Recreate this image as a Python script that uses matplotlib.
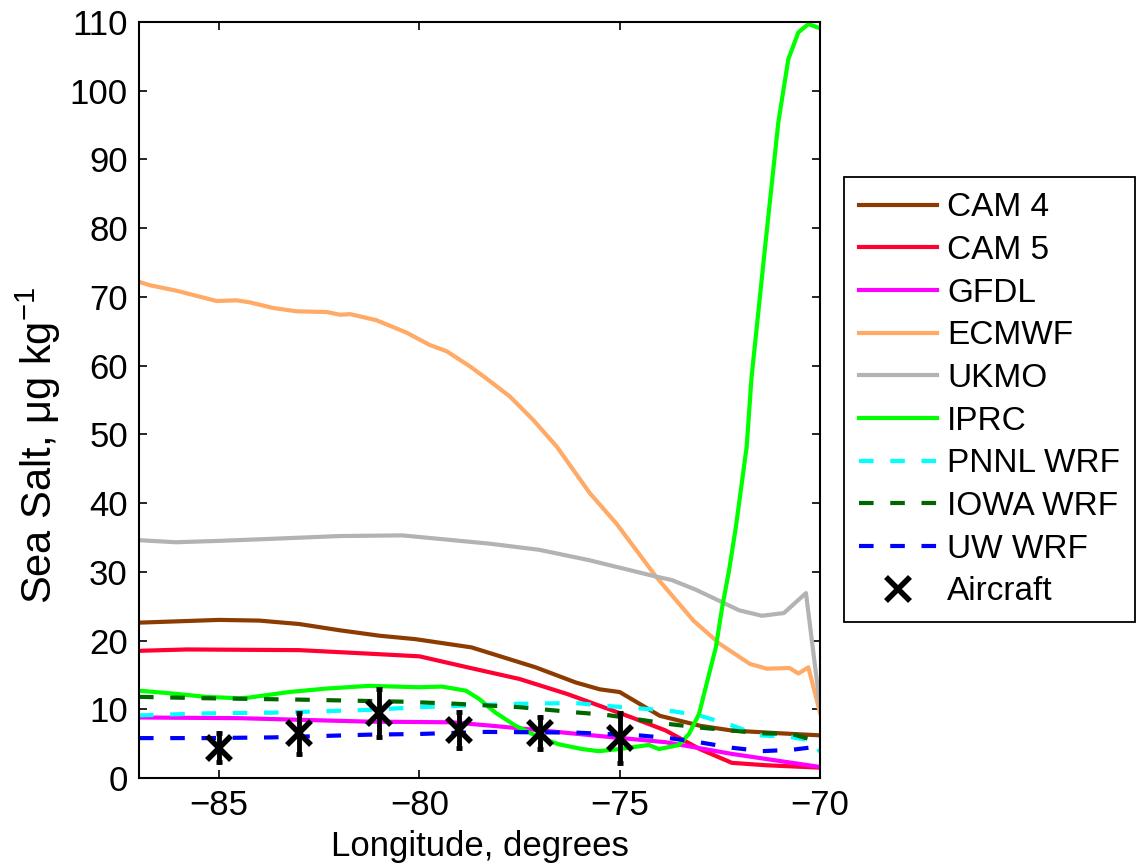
import matplotlib
matplotlib.use("Agg")
import matplotlib.pyplot as plt

plt.rcParams["font.family"] = ["Liberation Sans", "DejaVu Sans"]
plt.rcParams["mathtext.fontset"] = "custom"
plt.rcParams["mathtext.rm"] = "Liberation Sans"
plt.rcParams["mathtext.it"] = "Liberation Sans:italic"

# --- model transects (longitude, sea salt in ug/kg) ---
cam4_lon = [-87.0, -85.0, -84.0, -83.0, -82.0, -81.0, -80.1, -78.7, -77.1, -76.1,
            -75.5, -75.0, -74.0, -73.0, -72.2, -71.0, -70.0]
cam4_val = [22.6, 23.0, 22.9, 22.4, 21.5, 20.7, 20.2, 19.0, 16.1, 13.9,
            12.9, 12.5, 9.05, 7.6, 6.9, 6.5, 6.2]

cam5_lon = [-87.0, -85.8, -83.0, -81.3, -80.0, -78.8, -77.5, -76.3, -75.5, -74.7,
            -73.85, -73.0, -72.2, -71.35, -70.0]
cam5_val = [18.5, 18.7, 18.6, 18.1, 17.7, 16.1, 14.4, 12.2, 10.5, 8.8,
            6.9, 4.2, 2.2, 1.85, 1.5]

gfdl_lon = [-87.0, -84.5, -81.3, -79.2, -78.2, -77.1, -75.5, -73.85, -72.2, -70.0]
gfdl_val = [8.8, 8.7, 8.2, 8.1, 7.6, 7.0, 6.1, 5.2, 3.5, 1.6]

ecmwf_lon = [-87.0, -86.73, -86.06, -85.73, -85.06, -84.56, -84.23, -83.66, -83.06,
             -82.31, -81.98, -81.73, -81.07, -80.32, -79.74, -79.32, -78.74, -78.32,
             -77.74, -77.16, -76.57, -75.74, -75.08, -74.08, -73.16, -72.5, -71.75,
             -71.33, -70.76, -70.54, -70.29, -70.0]
ecmwf_val = [72.2, 71.7, 70.9, 70.4, 69.4, 69.5, 69.2, 68.4, 67.9,
             67.8, 67.4, 67.5, 66.6, 64.8, 63.0, 62.1, 59.9, 58.1,
             55.5, 52.1, 48.2, 41.4, 37.0, 29.2, 22.9, 19.5, 16.6,
             15.9, 16.0, 15.2, 16.1, 9.5]

ukmo_lon = [-87.0, -86.08, -85.0, -83.68, -82.0, -80.43, -78.26, -77.01, -75.77,
            -74.09, -73.7, -73.1, -72.02, -71.45, -70.9, -70.35, -70.0]
ukmo_val = [34.6, 34.3, 34.5, 34.8, 35.2, 35.3, 34.1, 33.2, 31.7,
            29.3, 28.8, 27.4, 24.4, 23.6, 24.0, 26.9, 10.5]

iprc_lon = [-87.0, -86.18, -85.33, -84.5, -84.25, -83.26, -82.34, -81.26, -80.01,
            -79.44, -78.84, -78.51, -78.1, -77.6, -77.01, -76.52, -75.93, -75.52,
            -75.02, -74.27, -74.02, -73.52, -73.27, -73.02, -72.77, -72.6, -72.44,
            -72.27, -72.1, -71.83, -71.71, -71.37, -71.04, -70.79, -70.54, -70.29,
            -70.0]
iprc_val = [12.7, 12.3, 11.8, 11.6, 11.7, 12.5, 13.0, 13.4, 13.2,
            13.3, 12.7, 11.5, 9.5, 7.6, 5.9, 4.9, 4.2, 3.9,
            4.2, 4.8, 4.2, 4.8, 6.4, 9.3, 15.1, 19.0, 24.9,
            30.2, 36.5, 48.2, 58.2, 77.3, 95.4, 104.6, 108.5, 109.7,
            109.1]

pnnl_lon = [-87.0, -85.33, -83.68, -81.26, -80.01, -77.51, -76.09, -75.36, -73.77,
            -73.02, -72.27, -71.52, -70.77, -70.2, -70.0]
pnnl_val = [9.1, 9.4, 9.5, 9.9, 10.3, 10.8, 10.9, 10.5, 9.8,
            9.1, 7.8, 6.2, 6.0, 5.4, 3.8]

iowa_lon = [-87.0, -85.33, -83.0, -81.26, -80.43, -79.1, -77.51, -76.01, -75.36,
            -74.52, -73.7, -72.95, -72.2, -71.45, -70.7, -70.0]
iowa_val = [11.8, 11.6, 11.4, 11.2, 11.1, 10.8, 10.3, 9.5, 9.2,
            8.5, 7.8, 7.3, 6.9, 6.5, 6.4, 5.2]

uw_lon = [-87.0, -85.33, -83.68, -81.26, -80.01, -78.35, -76.09, -75.36, -74.52,
          -73.77, -73.02, -72.2, -71.45, -70.7, -70.0]
uw_val = [5.8, 5.8, 5.9, 6.3, 6.4, 6.7, 6.6, 6.4, 6.2,
          5.8, 5.2, 4.4, 3.9, 4.1, 4.6]

# --- aircraft observations ---
air_lon = [-85, -83, -81, -79, -77, -75]
air_val = [4.4, 6.5, 9.5, 7.0, 6.5, 5.8]
air_err = [2.1, 3.0, 3.5, 2.6, 2.3, 3.6]

fig = plt.figure(figsize=(11.43, 8.67), dpi=100)
ax = fig.add_axes([0.1216, 0.1027, 0.5958, 0.8719])

lw = 3.0
dash = (3.5, 4.0)
ax.plot(cam4_lon, cam4_val, color="#8c3c00", lw=lw, label="CAM 4")
ax.plot(cam5_lon, cam5_val, color="#ff0033", lw=lw, label="CAM 5")
ax.plot(gfdl_lon, gfdl_val, color="#ff00ff", lw=lw, label="GFDL")
ax.plot(ecmwf_lon, ecmwf_val, color="#ffaa66", lw=lw, label="ECMWF")
ax.plot(ukmo_lon, ukmo_val, color="#b3b3b3", lw=lw, label="UKMO")
ax.plot(iprc_lon, iprc_val, color="#00ff00", lw=lw, label="IPRC")
ax.plot(pnnl_lon, pnnl_val, color="#00ffff", lw=lw, dashes=dash, label="PNNL WRF")
ax.plot(iowa_lon, iowa_val, color="#006600", lw=lw, dashes=dash, label="IOWA WRF")
ax.plot(uw_lon, uw_val, color="#0000ff", lw=lw, dashes=dash, label="UW WRF")

ax.errorbar(air_lon, air_val, yerr=air_err, fmt="none", ecolor="black",
            elinewidth=3.5, capsize=2.5, capthick=3.5, zorder=5)
ax.plot(air_lon, air_val, linestyle="none", marker="x", color="black",
        markersize=17, markeredgewidth=4, label="Aircraft", zorder=6)

ax.set_xlim(-87, -70)
ax.set_ylim(0, 110)
ax.set_xticks([-85, -80, -75, -70])
ax.set_yticks(range(0, 111, 10))
ax.tick_params(direction="in", length=6, width=1.2, labelsize=25,
               top=True, right=True, pad=8)
for sp in ax.spines.values():
    sp.set_linewidth(1.5)

ax.set_xlabel("Longitude, degrees", fontsize=25, labelpad=6)
ax.set_ylabel(r"Sea Salt, μg kg$^{-1}$", fontsize=30)
ax.yaxis.set_label_coords(-0.112, 0.44)

leg = ax.legend(loc="center left", bbox_to_anchor=(1.035, 0.5), fontsize=24,
                frameon=True, fancybox=False, edgecolor="black", framealpha=1,
                handlelength=2.35, handletextpad=0.3, labelspacing=0.35,
                borderpad=0.45, borderaxespad=0)
leg.get_frame().set_linewidth(1.3)

fig.savefig("out.png", dpi=100)
